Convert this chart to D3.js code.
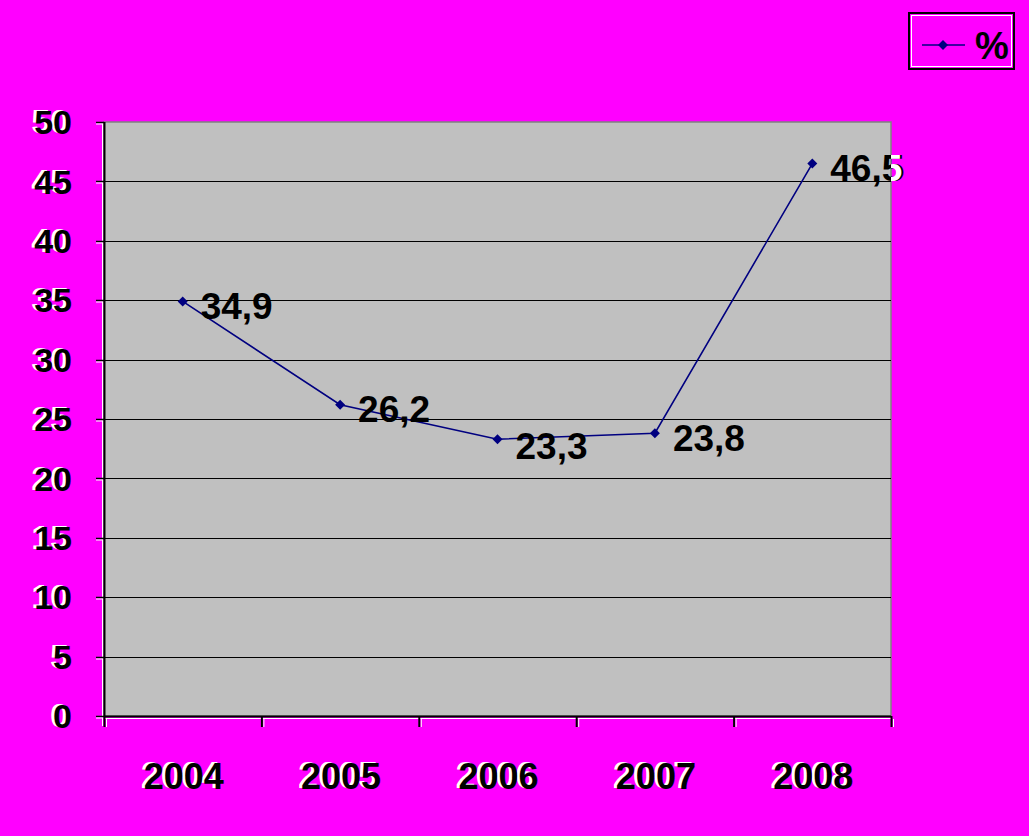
<!DOCTYPE html>
<html><head><meta charset="utf-8">
<script src="https://cdn.jsdelivr.net/npm/d3@7"></script>
<style>html,body{margin:0;padding:0;background:#FF00FF;}svg{display:block;}</style>
</head><body>
<script>
const years = ["2004","2005","2006","2007","2008"];
const values = [34.9, 26.2, 23.3, 23.8, 46.5];
const valueLabels = ["34,9","26,2","23,3","23,8","46,5"];
const yTicks = [0,5,10,15,20,25,30,35,40,45,50];
const seriesName = "%";

const W = 1029, H = 836;
const plot = {x0:104, x1:891, y0:122, y1:716};
const svg = d3.select("body").append("svg").attr("width", W).attr("height", H);
svg.append("rect").attr("width", W).attr("height", H).attr("fill", "#FF00FF");

const x = d3.scaleBand().domain(years).range([plot.x0, plot.x1]);
const y = d3.scaleLinear().domain([0, 50]).range([plot.y1, plot.y0]);

const defs = svg.append("defs");
defs.append("clipPath").attr("id","pc")
  .append("rect").attr("x", plot.x0).attr("y", plot.y0).attr("width", plot.x1-plot.x0).attr("height", plot.y1-plot.y0);
defs.append("clipPath").attr("id","po")
  .append("rect").attr("x", plot.x1).attr("y", 0).attr("width", W-plot.x1).attr("height", H);

svg.append("rect").attr("x", plot.x0).attr("y", plot.y0).attr("width", plot.x1-plot.x0).attr("height", plot.y1-plot.y0)
  .attr("fill", "#C0C0C0").attr("stroke", "#808080").attr("stroke-width", 1.5);

// gridlines
svg.append("g").selectAll("line").data(yTicks.filter(d=>d>0 && d<50)).join("line")
  .attr("x1", plot.x0).attr("x2", plot.x1).attr("y1", d=>Math.round(y(d))+0.5).attr("y2", d=>Math.round(y(d))+0.5)
  .attr("stroke", "#000").attr("stroke-width", 1.2);

const fontFam = "Arial, 'Liberation Sans', sans-serif";
const shadow = [["#fff",-3,-1],["#000",0,0]];

// y axis
const yAxisG = svg.append("g");
yAxisG.append("line").attr("x1", plot.x0+0.5).attr("x2", plot.x0+0.5).attr("y1", plot.y0).attr("y2", plot.y1).attr("stroke","#000").attr("stroke-width",2);
yAxisG.append("line").attr("x1", plot.x0-1.5).attr("x2", plot.x0-1.5).attr("y1", plot.y0).attr("y2", plot.y1+10).attr("stroke","#fff").attr("stroke-width",1);
yAxisG.selectAll("line.tk").data(yTicks).join("line").attr("class","tk")
  .attr("x1", plot.x0-8).attr("x2", plot.x0).attr("y1", d=>Math.round(y(d))+0.5).attr("y2", d=>Math.round(y(d))+0.5)
  .attr("stroke","#000").attr("stroke-width",1.5);
yAxisG.selectAll("line.tkw").data(yTicks).join("line").attr("class","tkw")
  .attr("x1", plot.x0-8).attr("x2", plot.x0-2).attr("y1", d=>Math.round(y(d))+2).attr("y2", d=>Math.round(y(d))+2)
  .attr("stroke","#fff").attr("stroke-width",1);
shadow.forEach(([c,dx,dy])=>{
  yAxisG.selectAll(null).data(yTicks).join("text")
    .attr("x", 72+dx).attr("y", d=>y(d)+dy).attr("dy","0.36em")
    .attr("text-anchor","end").attr("font-family",fontFam).attr("font-weight","bold").attr("font-size",34)
    .attr("fill", c).text(d=>d);
});

// x axis
const xAxisG = svg.append("g");
xAxisG.append("line").attr("x1", plot.x0).attr("x2", plot.x1).attr("y1", plot.y1+0.5).attr("y2", plot.y1+0.5).attr("stroke","#000").attr("stroke-width",2);
xAxisG.append("line").attr("x1", plot.x0).attr("x2", plot.x1).attr("y1", plot.y1+2.5).attr("y2", plot.y1+2.5).attr("stroke","#fff").attr("stroke-width",1);
const bounds = years.map(d=>x(d)).concat([plot.x1]);
xAxisG.selectAll("line.tk").data(bounds).join("line").attr("class","tk")
  .attr("x1", d=>d+0.5).attr("x2", d=>d+0.5).attr("y1", plot.y1).attr("y2", plot.y1+11).attr("stroke","#000").attr("stroke-width",2);
xAxisG.selectAll("line.tkw").data(bounds).join("line").attr("class","tkw")
  .attr("x1", d=>d+2.5).attr("x2", d=>d+2.5).attr("y1", plot.y1+3).attr("y2", plot.y1+11).attr("stroke","#fff").attr("stroke-width",1);
shadow.forEach(([c,dx,dy])=>{
  xAxisG.selectAll(null).data(years).join("text")
    .attr("x", d=>x(d)+x.bandwidth()/2+1+dx).attr("y", 776+dy).attr("dy","0.36em")
    .attr("text-anchor","middle").attr("font-family",fontFam).attr("font-weight","bold").attr("font-size",36)
    .attr("fill", c).text(d=>d);
});

// line
const cx = d=>x(d)+x.bandwidth()/2;
const pts = years.map((yr,i)=>({yr, v:values[i], lab:valueLabels[i]}));
svg.append("path").datum(pts)
  .attr("d", d3.line().x(d=>cx(d.yr)).y(d=>y(d.v)))
  .attr("fill","none").attr("stroke","#000080").attr("stroke-width",1.6);
const diamond = "M0,-5L5,0L0,5L-5,0Z";
svg.append("g").selectAll("path").data(pts).join("path")
  .attr("d", diamond)
  .attr("transform", d=>`translate(${cx(d.yr)},${y(d.v)})`)
  .attr("fill","#000080");

// data labels: black inside plot; outside plot white with dark shadow
const labOff = [{dx:18,dy:4},{dx:18,dy:4},{dx:18,dy:6},{dx:18,dy:4},{dx:18,dy:4}];
const labG = svg.append("g");
[["#000","url(#po)",2],["#fff","url(#po)",0],["#000","url(#pc)",0]].forEach(([c,clip,off])=>{
  const g = labG.append("g").attr("clip-path", clip);
  g.selectAll("text").data(pts).join("text")
    .attr("x", (d,i)=>cx(d.yr)+labOff[i].dx+off).attr("y", (d,i)=>y(d.v)+labOff[i].dy)
    .attr("dy","0.36em").attr("font-family",fontFam).attr("font-weight","bold").attr("font-size",37)
    .attr("fill", c).text(d=>d.lab);
});

// legend
const lg = svg.append("g");
lg.append("rect").attr("x",909).attr("y",13).attr("width",105).attr("height",56).attr("fill","none").attr("stroke","#000").attr("stroke-width",2);
lg.append("rect").attr("x",911.5).attr("y",15.5).attr("width",100).attr("height",51).attr("fill","none").attr("stroke","#fff").attr("stroke-width",1);
lg.append("line").attr("x1",922).attr("x2",965).attr("y1",45).attr("y2",45).attr("stroke","#000080").attr("stroke-width",1.6);
lg.append("path").attr("d", diamond).attr("transform","translate(943,45)").attr("fill","#000080");
lg.append("text").attr("x",975).attr("y",45).attr("dy","0.36em").attr("font-family",fontFam).attr("font-weight","bold").attr("font-size",38).attr("fill","#000").text(seriesName);
</script>
</body></html>
